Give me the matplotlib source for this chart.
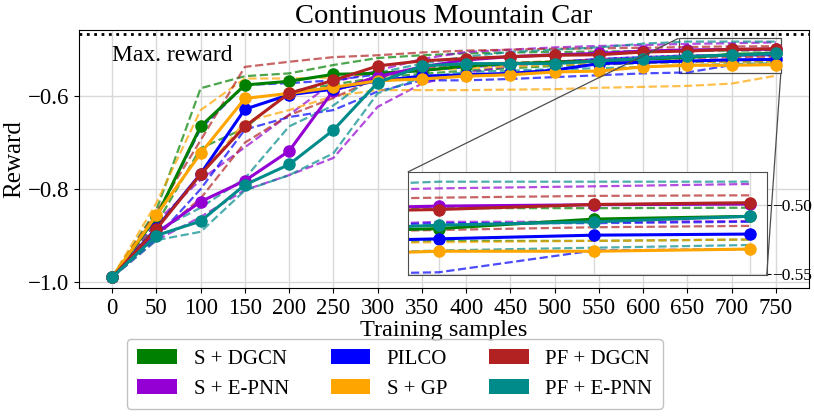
import matplotlib
matplotlib.use("Agg")
import matplotlib.pyplot as plt
from matplotlib.patches import Patch
from mpl_toolkits.axes_grid1.inset_locator import mark_inset

plt.rcParams["font.family"] = ["Liberation Serif", "DejaVu Serif"]

samples = [0, 50, 100, 150, 200, 250, 300, 350, 400, 450, 500, 550, 600, 650, 700, 750]
max_reward = -0.466

# mean, upper and lower curves for every method
s_dgcn = [-0.99, -0.86, -0.665, -0.576, -0.568, -0.553, -0.551, -0.545, -0.535, -0.530, -0.527, -0.525, -0.520, -0.517, -0.510, -0.508]
s_dgcn_hi = [-0.99, -0.845, -0.583, -0.557, -0.551, -0.533, -0.518, -0.512, -0.508, -0.506, -0.505, -0.504, -0.503, -0.502, -0.502, -0.5017]
s_dgcn_lo = [-0.99, -0.875, -0.712, -0.669, -0.59, -0.575, -0.56, -0.552, -0.545, -0.540, -0.535, -0.532, -0.529, -0.526, -0.526, -0.525]

s_epnn = [-0.99, -0.895, -0.827, -0.782, -0.718, -0.588, -0.558, -0.537, -0.522, -0.515, -0.511, -0.508, -0.503, -0.5005, -0.4995, -0.499]
s_epnn_hi = [-0.99, -0.87, -0.78, -0.71, -0.64, -0.57, -0.545, -0.52, -0.505, -0.50, -0.495, -0.492, -0.49, -0.4875, -0.486, -0.4843]
s_epnn_lo = [-0.99, -0.91, -0.86, -0.802, -0.77, -0.733, -0.623, -0.573, -0.55, -0.535, -0.527, -0.52, -0.516, -0.512, -0.512, -0.5115]

pilco = [-0.99, -0.884, -0.767, -0.628, -0.597, -0.585, -0.567, -0.557, -0.554, -0.551, -0.544, -0.530, -0.527, -0.5245, -0.5218, -0.521]
pilco_hi = [-0.99, -0.86, -0.67, -0.576, -0.572, -0.566, -0.553, -0.545, -0.538, -0.532, -0.526, -0.52, -0.516, -0.513, -0.513, -0.512]
pilco_lo = [-0.99, -0.905, -0.80, -0.672, -0.645, -0.63, -0.59, -0.566, -0.566, -0.563, -0.559, -0.555, -0.551, -0.549, -0.533, -0.532]

s_gp = [-0.99, -0.856, -0.723, -0.605, -0.594, -0.581, -0.567, -0.563, -0.557, -0.554, -0.548, -0.546, -0.537, -0.5336, -0.5336, -0.532]
s_gp_hi = [-0.99, -0.83, -0.63, -0.562, -0.562, -0.56, -0.55, -0.545, -0.54, -0.536, -0.533, -0.53, -0.528, -0.527, -0.526, -0.525]
s_gp_lo = [-0.99, -0.88, -0.77, -0.655, -0.63, -0.6, -0.587, -0.587, -0.587, -0.586, -0.585, -0.582, -0.58, -0.578, -0.573, -0.556]

pf_dgcn = [-0.99, -0.886, -0.768, -0.665, -0.594, -0.566, -0.535, -0.524, -0.519, -0.515, -0.512, -0.511, -0.505, -0.503, -0.4993, -0.498]
pf_dgcn_hi = [-0.99, -0.85, -0.695, -0.537, -0.526, -0.516, -0.512, -0.506, -0.502, -0.50, -0.498, -0.497, -0.496, -0.4943, -0.493, -0.4926]
pf_dgcn_lo = [-0.99, -0.90, -0.82, -0.70, -0.641, -0.604, -0.56, -0.54, -0.532, -0.528, -0.525, -0.522, -0.52, -0.518, -0.516, -0.515]

pf_epnn = [-0.99, -0.90, -0.869, -0.791, -0.747, -0.673, -0.571, -0.535, -0.530, -0.530, -0.530, -0.524, -0.519, -0.5145, -0.512, -0.508]
pf_epnn_hi = [-0.99, -0.89, -0.84, -0.777, -0.665, -0.62, -0.55, -0.53, -0.515, -0.505, -0.50, -0.495, -0.487, -0.4826, -0.4826, -0.4826]
pf_epnn_lo = [-0.99, -0.91, -0.892, -0.803, -0.77, -0.723, -0.594, -0.56, -0.548, -0.545, -0.542, -0.54, -0.537, -0.533, -0.531, -0.529]

methods = [
    ("S + DGCN", "green", s_dgcn, s_dgcn_hi, s_dgcn_lo),
    ("S + E-PNN", "darkviolet", s_epnn, s_epnn_hi, s_epnn_lo),
    ("PILCO", "blue", pilco, pilco_hi, pilco_lo),
    ("S + GP", "orange", s_gp, s_gp_hi, s_gp_lo),
    ("PF + DGCN", "firebrick", pf_dgcn, pf_dgcn_hi, pf_dgcn_lo),
    ("PF + E-PNN", "darkcyan", pf_epnn, pf_epnn_hi, pf_epnn_lo),
]


def draw_curves(ax, ms=8):
    for _, color, mean, hi, lo in methods:
        ax.plot(samples, hi, "--", color=color, lw=1.6, alpha=0.7)
        ax.plot(samples, lo, "--", color=color, lw=1.6, alpha=0.7)
    for _, color, mean, hi, lo in methods:
        ax.plot(samples, mean, "-", color=color, lw=2.2, marker="o", ms=ms)


fig = plt.figure(figsize=(8.14, 4.19), dpi=100)
ax = fig.add_axes([0.097, 0.3126, 0.897, 0.6154])
ax.grid(True, color="0.85", lw=1)
ax.set_axisbelow(True)
draw_curves(ax)
ax.axhline(max_reward, color="black", ls=":", lw=2)
ax.text(0, -0.525, "Max. reward", fontsize=17, ha="left", va="baseline")

ax.set_xlim(-37.5, 787.5)
ax.set_ylim(-1.013, -0.458)
ax.set_xticks(samples)
ax.set_yticks([-1.0, -0.8, -0.6])
ax.set_yticklabels(["\u22121.0", "\u22120.8", "\u22120.6"])
ax.tick_params(labelsize=16.5)
ax.set_title("Continuous Mountain Car", fontsize=20.5, pad=5)
ax.set_xlabel("Training samples", fontsize=17.5, labelpad=1)
ax.set_ylabel("Reward", fontsize=18, labelpad=2)

axins = fig.add_axes([0.501, 0.3437, 0.441, 0.2458])
axins.grid(True, color="0.85", lw=1)
axins.set_axisbelow(True)
draw_curves(axins)
axins.set_xlim(640, 755.5)
axins.set_ylim(-0.551, -0.4755)
axins.set_xticks([650, 700, 750])
axins.set_xticklabels([])
axins.tick_params(axis="x", length=0)
axins.yaxis.tick_right()
axins.set_yticks([-0.50, -0.55])
axins.set_yticklabels(["\u22120.50", "\u22120.55"])
axins.tick_params(axis="y", labelsize=12.5, length=3, pad=1)
for sp in axins.spines.values():
    sp.set_edgecolor("0.3")
mark_inset(ax, axins, loc1=2, loc2=4, fc="none", ec="0.3", lw=0.9)

handles = [Patch(facecolor=color, edgecolor="none", label=name) for name, color, *_ in methods]
fig.legend(handles=handles, loc="upper center", bbox_to_anchor=(0.485, 0.191), ncol=3,
           fontsize=15, handlelength=1.9, handletextpad=0.8, columnspacing=2.0,
           edgecolor="0.7", borderpad=0.5, labelspacing=0.5, borderaxespad=0)

fig.savefig("out.png", dpi=100)
